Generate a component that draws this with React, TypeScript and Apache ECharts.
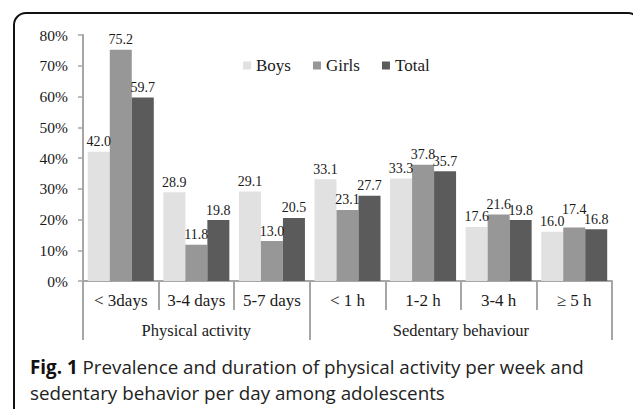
import React, { useEffect, useRef } from 'react';
import * as echarts from 'echarts';

const categories = ['< 3days', '3-4 days', '5-7 days', '< 1 h', '1-2 h', '3-4 h', '≥ 5 h'];
const boys = [42.0, 28.9, 29.1, 33.1, 33.3, 17.6, 16.0];
const girls = [75.2, 11.8, 13.0, 23.1, 37.8, 21.6, 17.4];
const total = [59.7, 19.8, 20.5, 27.7, 35.7, 19.8, 16.8];
const seriesNames = ['Boys', 'Girls', 'Total'];
const yMax = 80;
const yInterval = 10;
const groupNames = ['Physical activity', 'Sedentary behaviour'];
const groupSizes = [3, 4];
const captionBold = 'Fig. 1';
const captionLine1 = ' Prevalence and duration of physical activity per week and';
const captionLine2 = 'sedentary behavior per day among adolescents';

const SERIF = '"Liberation Serif", "DejaVu Serif", serif';
const SANS = 'Open Sans';
const AXIS = '#a6a6a6';
const colors = ['#e1e1e1', '#979797', '#5b5b5b'];

export default function App() {
  const ref = useRef<HTMLDivElement>(null);
  useEffect(() => {
    if (!ref.current) return;
    const chart = echarts.init(ref.current, null, { renderer: 'svg' });
    const bounds: number[] = [0];
    groupSizes.forEach((s) => bounds.push(bounds[bounds.length - 1] + s));
    const centers = groupSizes.map((s, i) => bounds[i] + s / 2);
    const data = [boys, girls, total];
    const lastIdx = categories.length - 1;
    const legendText = { fontFamily: SERIF, fontSize: 17, color: '#1a1a1a', fontWeight: 'normal' };
    chart.setOption({
      animation: false,
      backgroundColor: '#ffffff',
      textStyle: { fontFamily: SERIF },
      grid: { left: 83, right: 21, top: 35, bottom: 128 },
      legend: {
        data: seriesNames.map((n) => ({ name: n, textStyle: legendText })),
        left: 238,
        top: 52,
        icon: 'rect',
        itemWidth: 8,
        itemHeight: 8,
        itemGap: 22,
        textStyle: legendText,
      },
      xAxis: [
        {
          type: 'category',
          data: categories,
          position: 'bottom',
          axisLine: { show: true, lineStyle: { color: AXIS, width: 2 } },
          axisTick: { show: true, length: 29, interval: 0, lineStyle: { color: AXIS, width: 2 } },
          axisLabel: { interval: 0, margin: 11, fontFamily: SERIF, fontSize: 17, color: '#1a1a1a' },
        },
        {
          type: 'value',
          min: 0,
          max: bounds[bounds.length - 1],
          position: 'bottom',
          axisLine: { show: false },
          splitLine: { show: false },
          axisTick: {
            show: true,
            customValues: bounds,
            length: 59,
            lineStyle: { color: AXIS, width: 2 },
          },
          axisLabel: {
            customValues: centers,
            margin: 41,
            fontFamily: SERIF,
            fontSize: 16.5,
            color: '#1a1a1a',
            formatter: (v: number) => {
              const i = centers.findIndex((c) => Math.abs(c - v) < 1e-6);
              return i >= 0 ? groupNames[i] : '';
            },
          },
        },
      ],
      yAxis: {
        type: 'value',
        min: 0,
        max: yMax,
        interval: yInterval,
        axisLine: { show: true, lineStyle: { color: AXIS, width: 2 } },
        axisTick: { show: true, length: 5, lineStyle: { color: AXIS, width: 1.5 } },
        splitLine: { show: false },
        axisLabel: {
          margin: 15,
          formatter: '{value}%',
          fontFamily: SERIF,
          fontSize: 15.5,
          color: '#1a1a1a',
        },
      },
      series: seriesNames.map((name, i) => ({
        name,
        type: 'bar',
        xAxisIndex: 0,
        data: data[i].map((v, j) =>
          i === 1 && j === lastIdx ? { value: v, label: { offset: [0, -8] } } : v
        ),
        barWidth: 22,
        barGap: '0%',
        itemStyle: { color: colors[i] },
        label: {
          show: true,
          position: 'top',
          distance: 3,
          fontFamily: SERIF,
          fontSize: 14,
          color: '#1a1a1a',
          formatter: (p: any) => Number(p.value).toFixed(1),
        },
      })),
      graphic: [
        {
          type: 'rect',
          shape: { x: 14, y: 13, width: 626, height: 430, r: 12 },
          style: { fill: 'none', stroke: '#111111', lineWidth: 2 },
          silent: true,
        },
        {
          type: 'text',
          x: 30,
          y: 367,
          style: {
            text: '{b|' + captionBold + '}' + captionLine1,
            fontFamily: SANS,
            fontSize: 18.8,
            fill: '#222222',
            verticalAlign: 'middle',
            rich: {
              b: { fontFamily: SANS, fontSize: 18.8, fontWeight: 'bold', fill: '#111111' },
            },
          },
        },
        {
          type: 'text',
          x: 30,
          y: 393,
          style: {
            text: captionLine2,
            fontFamily: SANS,
            fontSize: 18.8,
            fill: '#222222',
            verticalAlign: 'middle',
          },
        },
      ],
    });
    return () => chart.dispose();
  }, []);
  return (
    <div
      ref={ref}
      style={{ position: 'fixed', left: 0, top: 0, width: 633, height: 409, background: '#fff' }}
    />
  );
}
